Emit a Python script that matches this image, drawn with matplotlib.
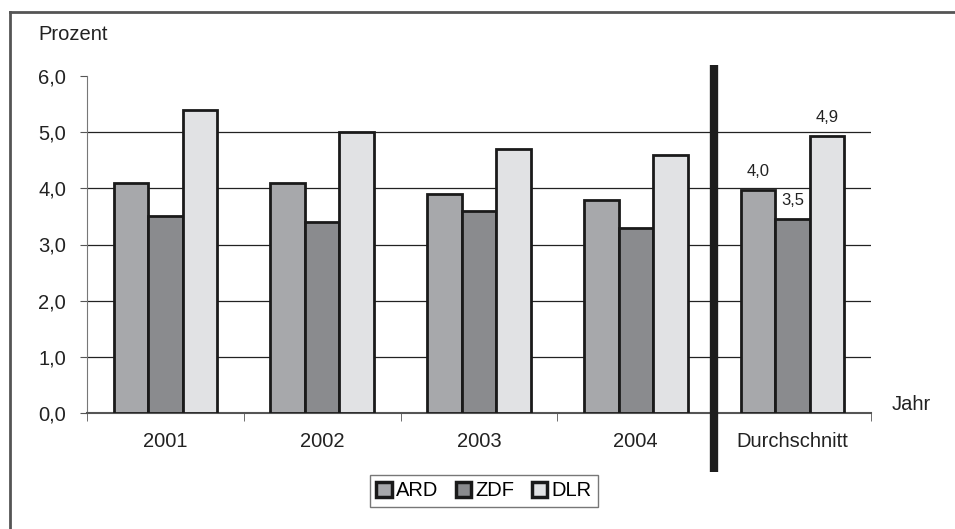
import numpy as np
import matplotlib.pyplot as plt
from matplotlib.lines import Line2D

categories = ['2001', '2002', '2003', '2004', 'Durchschnitt']
ard = [4.1, 4.1, 3.9, 3.8, 3.975]
zdf = [3.5, 3.4, 3.6, 3.3, 3.45]
dlr = [5.4, 5.0, 4.7, 4.6, 4.925]
avg_labels = ['4,0', '3,5', '4,9']

colors = ['#a7a8ab', '#8a8b8e', '#e1e2e4']
series = [('ARD', ard), ('ZDF', zdf), ('DLR', dlr)]

plt.rcParams['font.family'] = ['Liberation Sans', 'DejaVu Sans']

fig = plt.figure(figsize=(9.55, 5.29), dpi=100)
W, H = 955, 529
ax = fig.add_axes([87 / W, 1 - 413 / H, (871 - 87) / W, (413 - 76) / H])

x = np.arange(len(categories))
bw = 0.22
for i, (name, vals) in enumerate(series):
    ax.bar(x + (i - 1) * bw, vals, width=bw, color=colors[i],
           edgecolor='#1a1a1a', linewidth=2, label=name, zorder=3)

# labels for the average group
for i, (name, vals) in enumerate(series):
    ax.text(x[-1] + (i - 1) * bw, vals[-1] + 0.2, avg_labels[i],
            ha='center', va='bottom', fontsize=12, color='#222222')

ax.set_xlim(-0.5, len(categories) - 0.5)
ax.set_ylim(0, 6)
ax.set_yticks(np.arange(0, 6.1, 1))
ax.set_yticklabels([f'{v:.1f}'.replace('.', ',') for v in np.arange(0, 6.1, 1)])
ax.yaxis.grid(True, color='#222222', linewidth=0.9, zorder=0)
ax.set_axisbelow(True)
for g in ax.yaxis.get_gridlines()[-1:]:
    g.set_visible(False)

ax.set_xticks(x)
ax.set_xticklabels(categories)
ax.set_xticks(np.arange(-0.5, len(categories)), minor=True)
ax.tick_params(axis='x', which='major', length=0, pad=14, labelsize=14.5, colors='#222222')
ax.tick_params(axis='x', which='minor', length=6, direction='out', color='#555555')
ax.tick_params(axis='y', length=5, direction='out', color='#555555', labelsize=14.5,
               labelcolor='#222222', pad=10)

for s in ['top', 'right']:
    ax.spines[s].set_visible(False)
ax.spines['left'].set_color('#777777')
ax.spines['bottom'].set_color('#555555')
ax.spines['bottom'].set_linewidth(1.5)

# thick separator between years and average
ax.add_line(Line2D([3.5, 3.5], [-1.05, 6.19], color='#1e1e1e', linewidth=6,
                   solid_capstyle='butt', clip_on=False, zorder=5))

fig.text(38 / W, 1 - 35 / H, 'Prozent', fontsize=14.5, color='#222222', va='center')
fig.text(892 / W, 1 - 404 / H, 'Jahr', fontsize=14.5, color='#222222', va='center')

# outer frame (top and left)
fig.add_artist(Line2D([10 / W, 1], [1 - 12 / H, 1 - 12 / H], color='#555555',
                      linewidth=2, transform=fig.transFigure))
fig.add_artist(Line2D([10 / W, 10 / W], [0, 1 - 12 / H], color='#555555',
                      linewidth=2, transform=fig.transFigure))

leg = fig.legend(loc='center', bbox_to_anchor=(484 / W, 1 - 491 / H), ncol=3,
                 frameon=True, fancybox=False, fontsize=14.5, handlelength=0.75,
                 handleheight=0.75, handletextpad=0.2, columnspacing=0.9,
                 borderpad=0.3, borderaxespad=0)
leg.get_frame().set_edgecolor('#555555')
leg.get_frame().set_linewidth(1)
for h in leg.legend_handles:
    h.set_linewidth(2.5)

fig.savefig('out.png', dpi=100)
